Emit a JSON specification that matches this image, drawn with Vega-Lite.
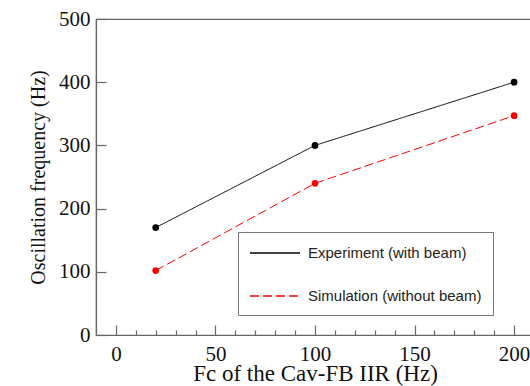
{
  "$schema": "https://vega.github.io/schema/vega-lite/v6.json",
  "width": 438,
  "height": 316,
  "autosize": {"type": "none"},
  "padding": {"left": 96, "top": 19, "right": 0, "bottom": 51},
  "background": "white",
  "data": {
    "values": [
      {"fc": 20, "freq": 170, "series": "Experiment (with beam)"},
      {"fc": 100, "freq": 300, "series": "Experiment (with beam)"},
      {"fc": 200, "freq": 400, "series": "Experiment (with beam)"},
      {"fc": 20, "freq": 102, "series": "Simulation (without beam)"},
      {"fc": 100, "freq": 240, "series": "Simulation (without beam)"},
      {"fc": 200, "freq": 347, "series": "Simulation (without beam)"}
    ]
  },
  "encoding": {
    "x": {
      "field": "fc", "type": "quantitative",
      "scale": {"domain": [-10, 210], "nice": false, "zero": false},
      "axis": {
        "title": "Fc of the Cav-FB IIR (Hz)",
        "titleFontSize": 23,
        "values": [0,10,20,30,40,50,60,70,80,90,100,110,120,130,140,150,160,170,180,190,200],
        "labelExpr": "datum.value % 50 === 0 ? datum.label : ''",
        "tickSize": {"condition": {"test": "datum.value % 50 === 0", "value": -10}, "value": -5},
        "labelPadding": 18,
        "titlePadding": -7
      }
    },
    "y": {
      "field": "freq", "type": "quantitative",
      "scale": {"domain": [0, 500], "nice": false},
      "axis": {
        "title": "Oscillation frequency (Hz)",
        "values": [0, 100, 200, 300, 400, 500],
        "tickSize": -10,
        "labelPadding": 16,
        "titlePadding": 10
      }
    },
    "color": {
      "field": "series", "type": "nominal",
      "scale": {"domain": ["Experiment (with beam)", "Simulation (without beam)"], "range": ["#000000", "#ff0000"]},
      "legend": {
        "title": null,
        "orient": "none",
        "legendX": 142,
        "legendY": 213,
        "symbolType": "M-2.778,0H2.778",
        "symbolSize": 324,
        "symbolOffset": 16,
        "symbolStrokeWidth": 1.5,
        "symbolFillColor": "transparent",
        "labelFont": "Liberation Sans",
        "labelFontSize": 15,
        "labelColor": "#222",
        "labelOffset": 23,
        "labelLimit": 400,
        "strokeColor": "#777",
        "padding": 11,
        "rowPadding": 25
      }
    }
  },
  "layer": [
    {
      "mark": {"type": "line", "strokeWidth": 1},
      "encoding": {
        "strokeDash": {
          "field": "series", "type": "nominal",
          "scale": {"domain": ["Experiment (with beam)", "Simulation (without beam)"], "range": [[1, 0], [9, 4]]},
          "legend": null
        }
      }
    },
    {
      "mark": {"type": "point", "filled": true, "size": 45, "opacity": 1}
    }
  ],
  "config": {
    "view": {"stroke": "#666", "strokeWidth": 1.2},
    "axis": {
      "domainColor": "#666",
      "domainWidth": 1.2,
      "tickColor": "#666",
      "tickWidth": 1.2,
      "grid": false,
      "labelFont": "Liberation Serif",
      "labelFontSize": 21,
      "labelColor": "#111",
      "titleFont": "Liberation Serif",
      "titleFontSize": 20,
      "titleFontWeight": "normal",
      "titleColor": "#111",
      "labelFlush": false,
      "labelOverlap": false
    }
  }
}
